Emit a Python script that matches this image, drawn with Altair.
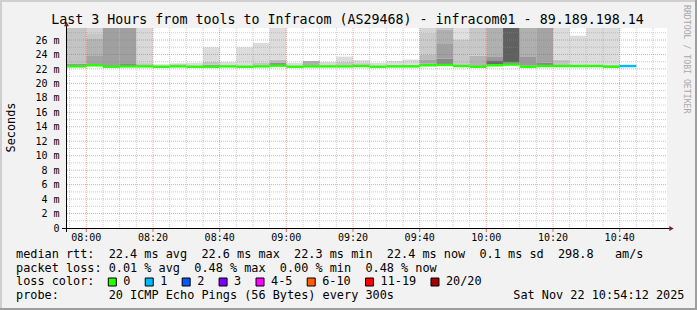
import altair as alt
import pandas as pd

# ---------------- data ----------------
bar_end = ["07:55", "08:00", "08:05", "08:10", "08:15", "08:20", "08:25", "08:30", "08:35", "08:40",
           "08:45", "08:50", "08:55", "09:00", "09:05", "09:10", "09:15", "09:20", "09:25", "09:30",
           "09:35", "09:40", "09:45", "09:50", "09:55", "10:00", "10:05", "10:10", "10:15", "10:20",
           "10:25", "10:30", "10:35", "10:40", "10:45"]
median_ms = [22.35, 22.35, 22.50, 22.30, 22.35, 22.35, 22.30, 22.35, 22.30, 22.30,
             22.35, 22.30, 22.35, 22.45, 22.30, 22.35, 22.35, 22.35, 22.40, 22.30,
             22.35, 22.35, 22.50, 22.55, 22.40, 22.30, 22.50, 22.60, 22.30, 22.40,
             22.40, 22.40, 22.40, 22.30, 22.40]
loss_count = [0, 0, 0, 0, 0, 0, 0, 0, 0, 0,
              0, 0, 0, 0, 0, 0, 0, 0, 0, 0,
              0, 0, 0, 0, 0, 0, 0, 0, 0, 0,
              0, 0, 0, 0, 1]

# smoke bands: bar (end time), low ms, high ms, grey shade
band_end = ["07:55", "07:55", "08:00", "08:00",
            "08:05", "08:05", "08:05", "08:05",
            "08:10", "08:15", "08:15", "08:20", "08:20",
            "08:25", "08:30", "08:35",
            "08:40", "08:40", "08:40",
            "08:45", "08:50", "08:55", "08:55",
            "09:00", "09:00", "09:00",
            "09:05", "09:10", "09:15", "09:20", "09:20",
            "09:25", "09:25", "09:30", "09:35", "09:35", "09:40", "09:40",
            "09:45", "09:45", "09:45", "09:45", "09:45",
            "09:50", "09:50", "09:50", "09:50",
            "09:55", "09:55",
            "10:00", "10:00",
            "10:05", "10:05", "10:05",
            "10:10", "10:10",
            "10:15", "10:15",
            "10:20", "10:20",
            "10:25", "10:25",
            "10:30", "10:35", "10:40", "10:40"]
band_lo = [22.30, 22.45, 22.30, 22.45,
           22.40, 23.79, 26.24, 26.93,
           22.30, 22.30, 22.45, 22.40, 22.80,
           22.35, 22.35, 22.35,
           22.40, 22.60, 23.00,
           22.40, 22.40, 22.45, 22.90,
           22.50, 22.90, 23.30,
           22.35, 22.45, 22.40, 22.45, 23.00,
           22.45, 22.80, 22.40, 22.40, 22.55, 22.40, 22.55,
           22.50, 22.78, 23.24, 23.93, 27.01,
           22.50, 23.40, 25.45, 27.40,
           22.50, 26.10,
           22.40, 23.83,
           22.60, 23.20, 23.65,
           22.60, 22.90,
           22.45, 23.65,
           22.55, 22.90,
           22.50, 23.30,
           22.50, 22.45, 22.40, 22.60]
band_hi = [30.0, 22.65, 30.0, 22.65,
           23.79, 26.24, 26.93, 30.0,
           30.0, 30.0, 22.60, 22.80, 30.0,
           22.65, 22.75, 22.85,
           22.60, 23.00, 25.00,
           22.95, 25.00, 22.90, 25.60,
           22.90, 23.30, 30.0,
           22.85, 23.10, 22.95, 23.00, 23.70,
           22.80, 23.20, 22.85, 22.55, 23.10, 22.55, 23.30,
           22.78, 23.24, 23.93, 27.01, 30.0,
           23.40, 25.45, 27.40, 30.0,
           26.10, 30.0,
           23.83, 30.0,
           23.20, 23.65, 30.0,
           22.90, 30.0,
           23.65, 30.0,
           22.90, 30.0,
           23.30, 30.0,
           26.60, 30.0, 22.60, 30.0]
band_gray = ["#c4c4c4", "#8c8c8c", "#c4c4c4", "#8c8c8c",
             "#a4a4a4", "#b4b4b4", "#c6c6c6", "#d2d2d2",
             "#a0a0a0", "#a0a0a0", "#6c6c6c", "#c4c4c4", "#d8d8d8",
             "#dcdcdc", "#cccccc", "#dcdcdc",
             "#a0a0a0", "#c4c4c4", "#dcdcdc",
             "#dcdcdc", "#dcdcdc", "#c4c4c4", "#dcdcdc",
             "#909090", "#c0c0c0", "#dcdcdc",
             "#dcdcdc", "#b0b0b0", "#d8d8d8", "#c8c8c8", "#dcdcdc",
             "#c8c8c8", "#dcdcdc", "#dcdcdc", "#c4c4c4", "#dcdcdc", "#c8c8c8", "#dcdcdc",
             "#a4a4a4", "#a8a8a8", "#bcbcbc", "#cbcbcb", "#d4d4d4",
             "#888888", "#a0a0a0", "#b0b0b0", "#c0c0c0",
             "#c8c8c8", "#e0e0e0",
             "#b4b4b4", "#c8c8c8",
             "#6c6c6c", "#999999", "#b0b0b0",
             "#888888", "#606060",
             "#999999", "#b0b0b0",
             "#888888", "#a4a4a4",
             "#c4c4c4", "#dcdcdc",
             "#dcdcdc", "#dcdcdc", "#c4c4c4", "#dcdcdc"]

loss_labels = ["0", "1", "2", "3", "4-5", "6-10", "11-19", "20/20"]
loss_colors = ["#26ff00", "#00b8ff", "#0059ff", "#7e00ff", "#ff00ff", "#ff5e00", "#ff0000", "#a10000"]

title_text = "Last 3 Hours from tools to Infracom (AS29468) - infracom01 - 89.189.198.14"
rtt_stats = ["22.4 ms avg", "22.6 ms max", "22.3 ms min", "22.4 ms now", "0.1 ms sd", "298.8   am/s"]
loss_stats = ["0.01 % avg", "0.48 % max", "0.00 % min", "0.48 % now"]
probe_text = "20 ICMP Echo Pings (56 Bytes) every 300s"
stamp_text = "Sat Nov 22 10:54:12 2025"
y_tick_ms = [0, 2, 4, 6, 8, 10, 12, 14, 16, 18, 20, 22, 24, 26]
x_tick_labels = ["08:00", "08:20", "08:40", "09:00", "09:20", "09:40", "10:00", "10:20", "10:40"]
view_start, view_end = "07:54:12", "10:54:12"

# ---------------- layout ----------------
PL, PT, W, H = 67, 28, 600, 200
MONO = "DejaVu Sans Mono"
NB = "\u00a0"


def to_min(s):
    parts = [int(p) for p in s.split(":")]
    return parts[0] * 60 + parts[1] + (parts[2] / 60 if len(parts) > 2 else 0)


X0, X1 = to_min(view_start), to_min(view_end)
xs = alt.Scale(domain=[X0, X1], nice=False, zero=False)
ys = alt.Scale(domain=[0, 27.66], nice=False, zero=False)

bars = pd.DataFrame({
    "end": [to_min(t) for t in bar_end],
    "median": median_ms,
    "lc": [loss_colors[c] for c in loss_count],
})
# a step that begins before the visible window starts at the window edge
bars["start"] = (bars["end"] - 5).clip(lower=X0)

bands = pd.DataFrame({"end": [to_min(t) for t in band_end], "lo": band_lo,
                      "hi": band_hi, "gray": band_gray})
bands["start"] = (bands["end"] - 5).clip(lower=X0)

major_x = [to_min(t) for t in x_tick_labels]
minor_x = [m for m in range(int(X0) + 1, int(X1) + 1) if m % 5 == 0 and m not in major_x]
major_y = [v for v in y_tick_ms if v > 0]
minor_y = [v + 1 for v in y_tick_ms]

smoke = alt.Chart(bands).mark_rect(clip=True).encode(
    x=alt.X("start:Q", scale=xs, axis=None),
    x2="end:Q",
    y=alt.Y("lo:Q", scale=ys, axis=None),
    y2="hi:Q",
    color=alt.Color("gray:N", scale=None),
)


def vgrid(vals, color, op, y2=H):
    return alt.Chart(pd.DataFrame({"t": vals})).mark_rule(
        color=color, opacity=op, strokeDash=[1, 1], strokeWidth=1).encode(
        x=alt.X("t:Q", scale=xs, axis=None), y=alt.value(0), y2=alt.value(y2))


def hgrid(vals, color, op):
    return alt.Chart(pd.DataFrame({"v": vals})).mark_rule(
        color=color, opacity=op, strokeDash=[1, 1], strokeWidth=1).encode(
        y=alt.Y("v:Q", scale=ys, axis=None), x=alt.value(0), x2=alt.value(W))


median_line = alt.Chart(bars).mark_rule(strokeWidth=2.4, clip=True).encode(
    x=alt.X("start:Q", scale=xs, axis=None), x2="end:Q",
    y=alt.Y("median:Q", scale=ys, axis=None),
    color=alt.Color("lc:N", scale=None),
)

# tick labels through the scales
x_labels = alt.Chart(pd.DataFrame({"t": major_x, "lab": x_tick_labels})).mark_text(
    font=MONO, fontSize=10, align="center", baseline="alphabetic", color="black").encode(
    x=alt.X("t:Q", scale=xs, axis=None), y=alt.value(240.8 - PT), text="lab:N")
x_ticks = alt.Chart(pd.DataFrame({"t": major_x})).mark_rule(color="#e06060", strokeWidth=1).encode(
    x=alt.X("t:Q", scale=xs, axis=None), y=alt.value(H + 1), y2=alt.value(H + 4))
y_lab_text = [("0" + NB + NB) if v == 0 else f"{v}{NB}m" for v in y_tick_ms]
y_labels = alt.Chart(pd.DataFrame({"v": y_tick_ms, "lab": y_lab_text})).mark_text(
    font=MONO, fontSize=10, align="right", baseline="alphabetic", dy=3.6, color="black").encode(
    y=alt.Y("v:Q", scale=ys, axis=None), x=alt.value(59.6 - PL), text="lab:N")

one = alt.Data(values=[{"k": 0}])


def txt(s, px, py, size=11.85, align="left", angle=0, color="black", baseline="alphabetic"):
    return alt.Chart(one).mark_text(
        text=s.replace(" ", NB), font=MONO, fontSize=size, align=align, angle=angle,
        color=color, baseline=baseline).encode(x=alt.value(px - PL), y=alt.value(py - PT))


def box(x1, y1, x2, y2, fill, stroke=""):
    kw = dict(fill=fill, opacity=1)
    if stroke:
        kw.update(stroke=stroke, strokeWidth=1)
    else:
        kw.update(strokeWidth=0)
    return alt.Chart(one).mark_rect(**kw).encode(
        x=alt.value(x1 - PL), x2=alt.value(x2 - PL), y=alt.value(y1 - PT), y2=alt.value(y2 - PT))


def rule(x1, y1, x2, y2, color="black"):
    return alt.Chart(one).mark_rule(color=color, strokeWidth=1).encode(
        x=alt.value(x1 - PL), x2=alt.value(x2 - PL), y=alt.value(y1 - PT), y2=alt.value(y2 - PT))


layers = [
    smoke,
    vgrid(minor_x, "#8f8f8f", 0.45), hgrid(minor_y, "#8f8f8f", 0.45),
    vgrid(major_x, "#e05050", 0.5), hgrid(major_y, "#e05050", 0.5),
    median_line,
    x_ticks, x_labels, y_labels,
    rule(62, 228.5, 670, 228.5),
    rule(66.5, 24, 66.5, 232),
    alt.Chart(one).mark_point(shape="triangle-right", filled=True, size=26, color="#802020",
                              opacity=1).encode(x=alt.value(671.5 - PL), y=alt.value(228.5 - PT)),
    alt.Chart(one).mark_point(shape="triangle-up", filled=True, size=26, color="#802020",
                              opacity=1).encode(x=alt.value(66.5 - PL), y=alt.value(24 - PT)),
    txt(title_text, 347.5, 24, size=13.3, align="center"),
    txt("Seconds", 15, 127.5, angle=270, align="center"),
    txt("RRDTOOL / TOBI OETIKER", 683.5, 5, size=8.2, angle=90, color="#a8a8a8"),
    txt("median rtt:  " + "  ".join(rtt_stats), 16, 258),
    txt("packet loss: " + "  ".join(loss_stats), 16, 271.5),
    txt("loss color:", 16, 285),
    txt("probe:       " + probe_text, 16, 299),
    txt(stamp_text, 513.3, 299),
    # image frame
    box(0, 0, 697, 2, "#cfcfcf"), box(0, 0, 2, 310, "#cfcfcf"),
    box(0, 308, 697, 310, "#9e9e9e"), box(695, 0, 697, 310, "#9e9e9e"),
]

sx = 108.3
for lab, col in zip(loss_labels, loss_colors):
    layers.append(box(sx, 278, sx + 8, 286, col, stroke="black"))
    layers.append(txt(lab, sx + 15, 285))
    sx += 29.8 + 7.13 * len(lab)

chart = alt.layer(*layers).properties(
    width=W, height=H,
    padding={"left": PL, "top": PT, "right": 697 - PL - W, "bottom": 310 - PT - H},
    autosize=alt.AutoSizeParams(type="none"),
    background="#f2f2f2",
).configure_view(fill="white", stroke=None)

chart.save("out.html", embed_options={"renderer": "svg", "actions": False})
